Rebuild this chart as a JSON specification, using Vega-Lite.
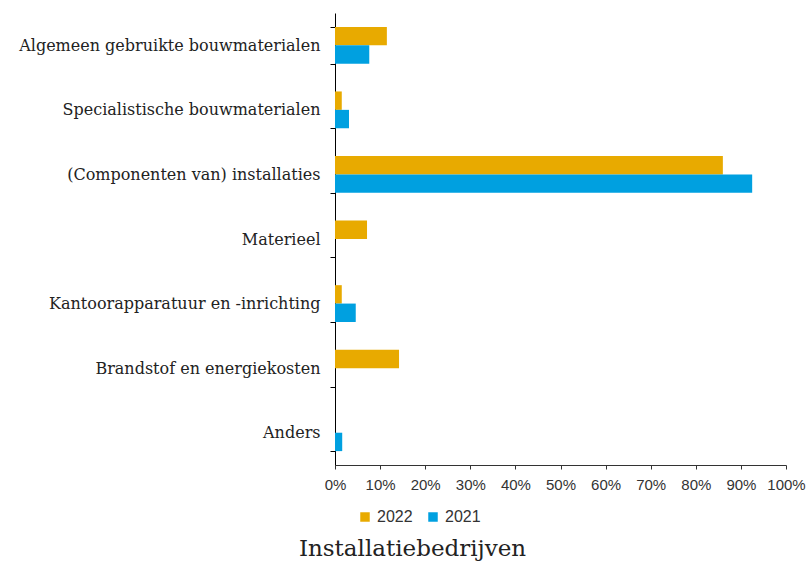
{
  "$schema": "https://vega.github.io/schema/vega-lite/v6.json",
  "width": 451,
  "height": 452,
  "autosize": "none",
  "padding": {"left": 335, "top": 13, "right": 22, "bottom": 97},
  "background": "white",
  "title": {
    "text": "Installatiebedrijven",
    "orient": "bottom",
    "anchor": "middle",
    "frame": "group",
    "dx": -148,
    "offset": 13,
    "font": "DejaVu Serif",
    "fontSize": 23,
    "fontWeight": "normal",
    "color": "#222222"
  },
  "data": {
    "values": [
      {"cat": "Algemeen gebruikte bouwmaterialen\u00a0", "year": "2022", "value": 0.115},
      {"cat": "Algemeen gebruikte bouwmaterialen\u00a0", "year": "2021", "value": 0.076},
      {"cat": "Specialistische bouwmaterialen", "year": "2022", "value": 0.015},
      {"cat": "Specialistische bouwmaterialen", "year": "2021", "value": 0.031},
      {"cat": "(Componenten van) installaties", "year": "2022", "value": 0.86},
      {"cat": "(Componenten van) installaties", "year": "2021", "value": 0.925},
      {"cat": "Materieel", "year": "2022", "value": 0.071},
      {"cat": "Materieel", "year": "2021", "value": 0},
      {"cat": "Kantoorapparatuur en -inrichting\u00a0", "year": "2022", "value": 0.015},
      {"cat": "Kantoorapparatuur en -inrichting\u00a0", "year": "2021", "value": 0.046},
      {"cat": "Brandstof en energiekosten", "year": "2022", "value": 0.142},
      {"cat": "Brandstof en energiekosten", "year": "2021", "value": 0},
      {"cat": "Anders", "year": "2022", "value": 0},
      {"cat": "Anders", "year": "2021", "value": 0.016}
    ]
  },
  "mark": {"type": "bar"},
  "encoding": {
    "y": {
      "field": "cat",
      "type": "nominal",
      "sort": null,
      "scale": {"paddingInner": 0.43, "paddingOuter": 0.215},
      "axis": {
        "title": null,
        "tickBand": "extent",
        "tickSize": 5,
        "tickColor": "#000000",
        "domainColor": "#000000",
        "labelFont": "DejaVu Serif",
        "labelFontSize": 16,
        "labelColor": "#222222",
        "labelPadding": 10,
        "labelLimit": 400,
        "grid": false
      }
    },
    "yOffset": {
      "field": "year",
      "type": "nominal",
      "sort": ["2022", "2021"],
      "scale": {"paddingInner": 0, "paddingOuter": 0}
    },
    "x": {
      "field": "value",
      "type": "quantitative",
      "scale": {"domain": [0, 1], "nice": false},
      "axis": {
        "title": null,
        "values": [0, 0.1, 0.2, 0.3, 0.4, 0.5, 0.6, 0.7, 0.8, 0.9, 1],
        "format": ".0%",
        "grid": false,
        "labelOverlap": false,
        "labelFlush": false,
        "tickSize": 4,
        "tickColor": "#333333",
        "domainColor": "#333333",
        "labelFont": "Liberation Sans",
        "labelFontSize": 15,
        "labelColor": "#333333",
        "labelPadding": 8
      }
    },
    "color": {
      "field": "year",
      "type": "nominal",
      "scale": {"domain": ["2022", "2021"], "range": ["#E8AA00", "#00A0E0"]},
      "legend": {
        "title": null,
        "orient": "none",
        "legendX": 22,
        "legendY": 496,
        "direction": "horizontal",
        "symbolType": "square",
        "symbolSize": 90,
        "symbolStrokeWidth": 0,
        "labelFont": "Liberation Sans",
        "labelFontSize": 16,
        "labelColor": "#333333",
        "labelOffset": 4,
        "columnPadding": 12
      }
    }
  },
  "config": {"view": {"stroke": null}}
}
